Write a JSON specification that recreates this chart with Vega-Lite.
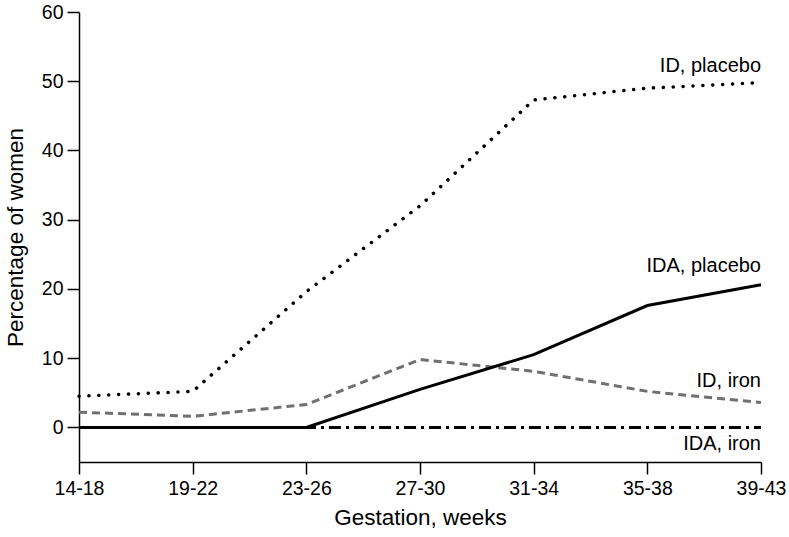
{
  "$schema": "https://vega.github.io/schema/vega-lite/v6.json",
  "width": 682,
  "height": 450,
  "autosize": {"type": "none"},
  "padding": {"left": 79, "right": 28, "top": 12, "bottom": 75},
  "background": "white",
  "config": {
    "view": {"stroke": null},
    "font": "Liberation Sans",
    "axis": {
      "domainColor": "black", "domainWidth": 1.5, "tickColor": "black", "tickWidth": 1.5,
      "tickSize": 12, "labelColor": "black", "titleColor": "black", "labelFont": "Liberation Sans",
      "titleFont": "Liberation Sans", "labelFontSize": 19.5, "titleFontSize": 22.5, "titleFontWeight": "normal",
      "grid": false
    }
  },
  "datasets": {
    "lines": [
      {"week": "14-18", "series": "ID, placebo", "pct": 4.5},
      {"week": "19-22", "series": "ID, placebo", "pct": 5.2},
      {"week": "23-26", "series": "ID, placebo", "pct": 19.6},
      {"week": "27-30", "series": "ID, placebo", "pct": 32},
      {"week": "31-34", "series": "ID, placebo", "pct": 47.3},
      {"week": "35-38", "series": "ID, placebo", "pct": 49},
      {"week": "39-43", "series": "ID, placebo", "pct": 49.8},
      {"week": "14-18", "series": "IDA, placebo", "pct": 0},
      {"week": "19-22", "series": "IDA, placebo", "pct": 0},
      {"week": "23-26", "series": "IDA, placebo", "pct": 0},
      {"week": "27-30", "series": "IDA, placebo", "pct": 5.5},
      {"week": "31-34", "series": "IDA, placebo", "pct": 10.5},
      {"week": "35-38", "series": "IDA, placebo", "pct": 17.6},
      {"week": "39-43", "series": "IDA, placebo", "pct": 20.6},
      {"week": "14-18", "series": "ID, iron", "pct": 2.2},
      {"week": "19-22", "series": "ID, iron", "pct": 1.6},
      {"week": "23-26", "series": "ID, iron", "pct": 3.3},
      {"week": "27-30", "series": "ID, iron", "pct": 9.8},
      {"week": "31-34", "series": "ID, iron", "pct": 8.1},
      {"week": "35-38", "series": "ID, iron", "pct": 5.2},
      {"week": "39-43", "series": "ID, iron", "pct": 3.6},
      {"week": "14-18", "series": "IDA, iron", "pct": 0},
      {"week": "19-22", "series": "IDA, iron", "pct": 0},
      {"week": "23-26", "series": "IDA, iron", "pct": 0},
      {"week": "27-30", "series": "IDA, iron", "pct": 0},
      {"week": "31-34", "series": "IDA, iron", "pct": 0},
      {"week": "35-38", "series": "IDA, iron", "pct": 0},
      {"week": "39-43", "series": "IDA, iron", "pct": 0}
    ],
    "labels": [
      {"week": "39-43", "label": "ID, placebo", "pct": 51.3},
      {"week": "39-43", "label": "IDA, placebo", "pct": 22.4},
      {"week": "39-43", "label": "ID, iron", "pct": 5.9},
      {"week": "39-43", "label": "IDA, iron", "pct": -3.3}
    ]
  },
  "encoding": {
    "x": {
      "field": "week", "type": "ordinal",
      "sort": ["14-18", "19-22", "23-26", "27-30", "31-34", "35-38", "39-43"],
      "scale": {"type": "point", "padding": 0},
      "axis": {"title": "Gestation, weeks", "labelAngle": 0, "labelPadding": 5, "titlePadding": 9}
    },
    "y": {
      "field": "pct", "type": "quantitative",
      "scale": {"domain": [-5, 60], "nice": false, "zero": false},
      "axis": {"title": "Percentage of women", "values": [0, 10, 20, 30, 40, 50, 60], "labelPadding": 4, "titlePadding": 14}
    }
  },
  "layer": [
    {
      "data": {"name": "lines"},
      "transform": [{"filter": "datum.series === 'IDA, iron'"}],
      "mark": {"type": "line", "color": "black", "strokeWidth": 3, "strokeDash": [12, 5, 3, 5]}
    },
    {
      "data": {"name": "lines"},
      "transform": [{"filter": "datum.series === 'ID, iron'"}],
      "mark": {"type": "line", "color": "#707070", "strokeWidth": 3, "strokeDash": [8, 5]}
    },
    {
      "data": {"name": "lines"},
      "transform": [{"filter": "datum.series === 'IDA, placebo'"}],
      "mark": {"type": "line", "color": "black", "strokeWidth": 3}
    },
    {
      "data": {"name": "lines"},
      "transform": [{"filter": "datum.series === 'ID, placebo'"}],
      "mark": {"type": "line", "color": "black", "strokeWidth": 3.5, "strokeCap": "round", "strokeDash": [0.1, 9.8]}
    },
    {
      "data": {"name": "labels"},
      "mark": {"type": "text", "align": "right", "baseline": "alphabetic", "fontSize": 20, "color": "black", "font": "Liberation Sans"},
      "encoding": {"text": {"field": "label"}}
    }
  ]
}
